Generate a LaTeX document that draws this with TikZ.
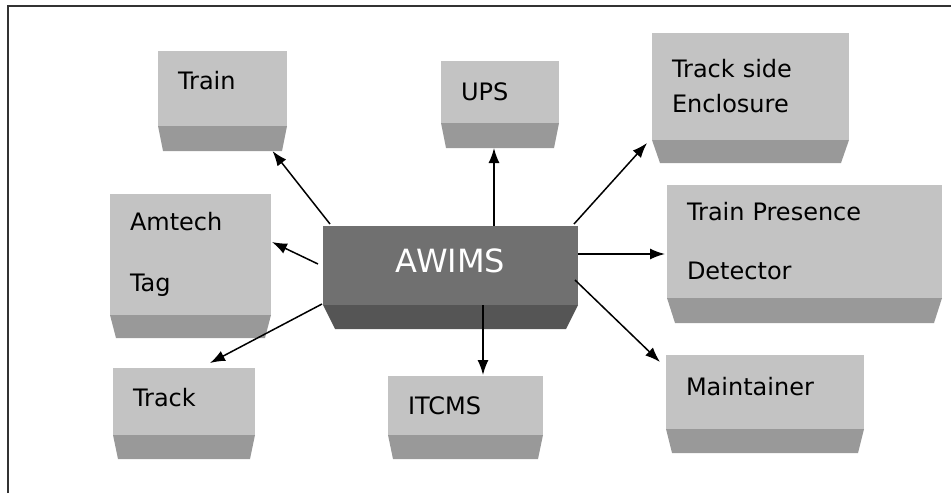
\documentclass[tikz,border=0pt]{standalone}
\usepackage{fontspec}
\setmainfont{DejaVu Sans}
\usetikzlibrary{arrows.meta}
\definecolor{faceg}{HTML}{C3C3C3}
\definecolor{baseg}{HTML}{999999}
\definecolor{hubface}{HTML}{707070}
\definecolor{hubbase}{HTML}{555555}
\newcommand{\footing}[4]{%
  \fill[#4] (#1.south west) -- ++(#3,#2) -- ([xshift=-#3pt,yshift=-#2pt]#1.south east) -- (#1.south east) -- cycle;
  \coordinate (#1-b) at ([yshift=-#2pt]#1.south);}
\begin{document}
\begin{tikzpicture}[x=1pt,y=-1pt,
		box/.style={fill=faceg,inner xsep=20pt,inner ysep=0pt,outer sep=0pt,align=left,
			font=\fontsize{24}{29}\selectfont},
		lift/.style={text depth=#1},
		hub/.style={box,fill=hubface,text=white,align=center,font=\fontsize{32}{38}\selectfont},
		link/.style={line width=1.5pt,-{Latex[length=15pt,width=11pt]}}]
\useasboundingbox (0,0) rectangle (951,493);
\draw[line width=2.5pt,draw=black!80] (8,493) -- (8,6) -- (951,6);
\node[hub,lift=10pt,minimum width=255pt,minimum height=79pt,text width=215pt] (awims) at (450.5,265.5) {AWIMS};
\node[box,lift=16pt,minimum width=129pt,minimum height=75pt,text width=89pt] (train) at (222.5,88.5) {Train};
\node[box,minimum width=118pt,minimum height=62pt,text width=78pt] (ups) at (500,92) {UPS};
\node[box,minimum width=197pt,minimum height=107pt,text width=157pt] (encl) at (750.5,86.5) {Track side\\[6pt]Enclosure};
\node[box,minimum width=275pt,minimum height=113pt,text width=235pt] (tpd) at (804.5,241.5) {Train Presence\\[30pt]Detector};
\node[box,minimum width=161pt,minimum height=121pt,text width=121pt] (amtech) at (190.5,254.5) {Amtech\\[32pt]Tag};
\node[box,lift=9pt,minimum width=142pt,minimum height=67pt,text width=102pt] (track) at (184,401.5) {Track};
\node[box,minimum width=155pt,minimum height=59pt,text width=115pt] (itcms) at (465.5,405.5) {ITCMS};
\node[box,lift=12pt,minimum width=198pt,minimum height=74pt,text width=158pt] (maint) at (765,392) {Maintainer};
\footing{awims}{24}{12}{hubbase}
\footing{train}{25}{5}{baseg}
\footing{ups}{25}{5}{baseg}
\footing{encl}{23}{8}{baseg}
\footing{tpd}{25}{8}{baseg}
\footing{amtech}{23}{6}{baseg}
\footing{track}{24}{5}{baseg}
\footing{itcms}{24}{5}{baseg}
\footing{maint}{24}{6}{baseg}
\draw[link] ([xshift=7pt,yshift=2pt]awims.north west) -- ([xshift=50pt]train-b);
\draw[link] ([xshift=43.5pt]awims.north) -- ([xshift=-6pt]ups-b);
\draw[link] ([xshift=-4pt,yshift=2pt]awims.north east) -- ([xshift=-5pt,yshift=-3pt]encl.south west);
\draw[link] ([yshift=11.5pt]awims.east) coordinate (tpd-s) -- ([xshift=-2pt]tpd-s -| tpd.west);
\draw[link] ([xshift=-5pt,yshift=1.5pt]awims.west) -- ([xshift=1pt,yshift=12.5pt]amtech.east);
\draw[link] ([xshift=-1pt,yshift=1pt]awims.south west) -- ([xshift=26pt,yshift=5pt]track.north);
\draw[link] ([xshift=32.5pt]awims.south) coordinate (itcms-s) -- ([yshift=1pt]itcms-s |- itcms.north);
\draw[link] ([xshift=-3pt,yshift=-14.5pt]awims.east) -- ([xshift=-6pt,yshift=-7pt]maint.north west);
\end{tikzpicture}
\end{document}
